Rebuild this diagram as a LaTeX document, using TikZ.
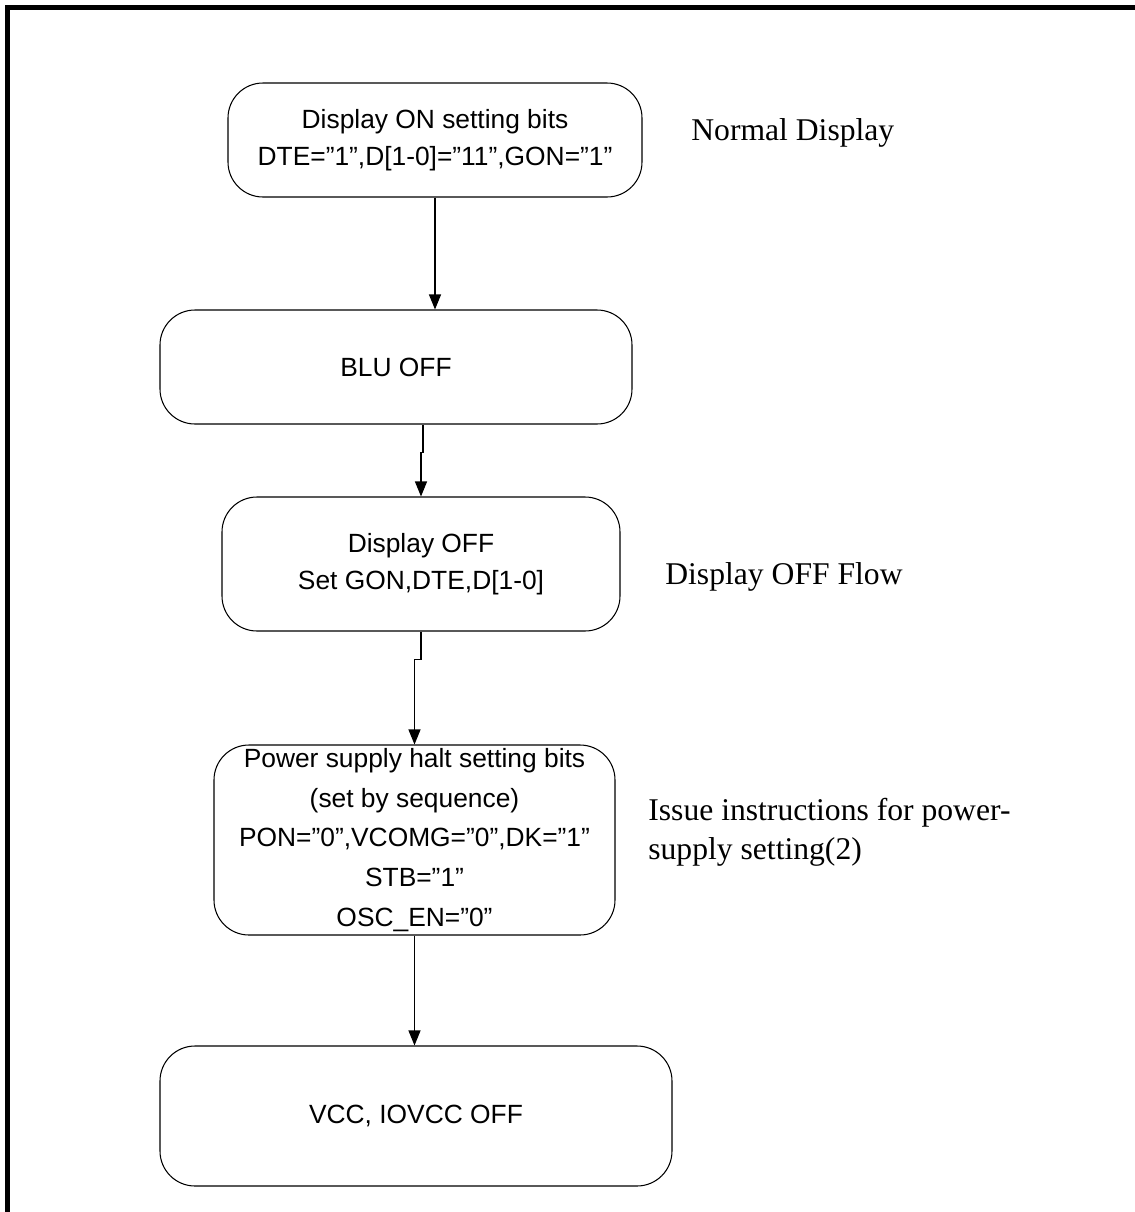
\documentclass[tikz,border=0pt]{standalone}
\usepackage{fontspec}
\setmainfont{Liberation Serif}
\newfontfamily\boxfont{Liberation Sans}
\usepackage{tikz}
\usetikzlibrary{calc,arrows.meta}

\begin{document}
\begin{tikzpicture}[
    box/.style  = {draw, line width=0.6pt, fill=white, rounded corners=0.7cm,
                   align=center, font=\boxfont\fontsize{15}{21}\selectfont},
    note/.style = {anchor=west, inner sep=0pt, align=left,
                   font=\fontsize{18}{22}\selectfont},
    flow/.style = {line width=0.6pt, -{Triangle[length=0.3cm,width=0.24cm]}}
  ]
  \useasboundingbox (0,0) rectangle (22.7,-24.24);
  \draw[line width=2.8pt, line join=miter] (0.15,-24.4) -- (0.15,-0.15) -- (22.9,-0.15);

  \node[box, minimum width=8.28cm,  minimum height=2.28cm] (dispon)  at (8.70,  -2.80)
       {Display ON setting bits\\DTE=”1”,D[1-0]=”11”,GON=”1”};
  \node[box, minimum width=9.44cm,  minimum height=2.28cm] (bluoff)  at (7.92,  -7.34)
       {BLU OFF};
  \node[box, minimum width=7.96cm,  minimum height=2.68cm] (dispoff) at (8.42, -11.28)
       {Display OFF\\Set GON,DTE,D[1-0]};
  \node[box, minimum width=8.02cm,  minimum height=3.80cm, inner sep=0pt,
        font=\boxfont\fontsize{15}{22.7}\selectfont] (halt) at (8.29, -16.80)
       {Power supply halt setting bits\\(set by sequence)\\PON=”0”,VCOMG=”0”,DK=”1”\\STB=”1”\\OSC\_EN=”0”};
  \node[box, minimum width=10.24cm, minimum height=2.80cm] (vccoff)  at (8.32, -22.32)
       {VCC, IOVCC OFF};

  \node[note] (normal) at (13.82,  -2.66) {Normal Display};
  \node[note] (offflow) at (13.30, -11.54) {Display OFF Flow};
  \node[note] (issue)  at (12.96, -16.65) {Issue instructions for power-\\supply setting(2)};

  \draw[flow] (dispon.south) -- (dispon.south |- bluoff.north);
  \draw[flow] ($(bluoff.south)+(0.54,0)$) -- ++(0,-0.56) -| (dispoff.north);
  \draw[flow] (dispoff.south) -- ++(0,-0.56) -| (halt.north);
  \draw[flow] (halt.south) -- (halt.south |- vccoff.north);
\end{tikzpicture}
\end{document}
